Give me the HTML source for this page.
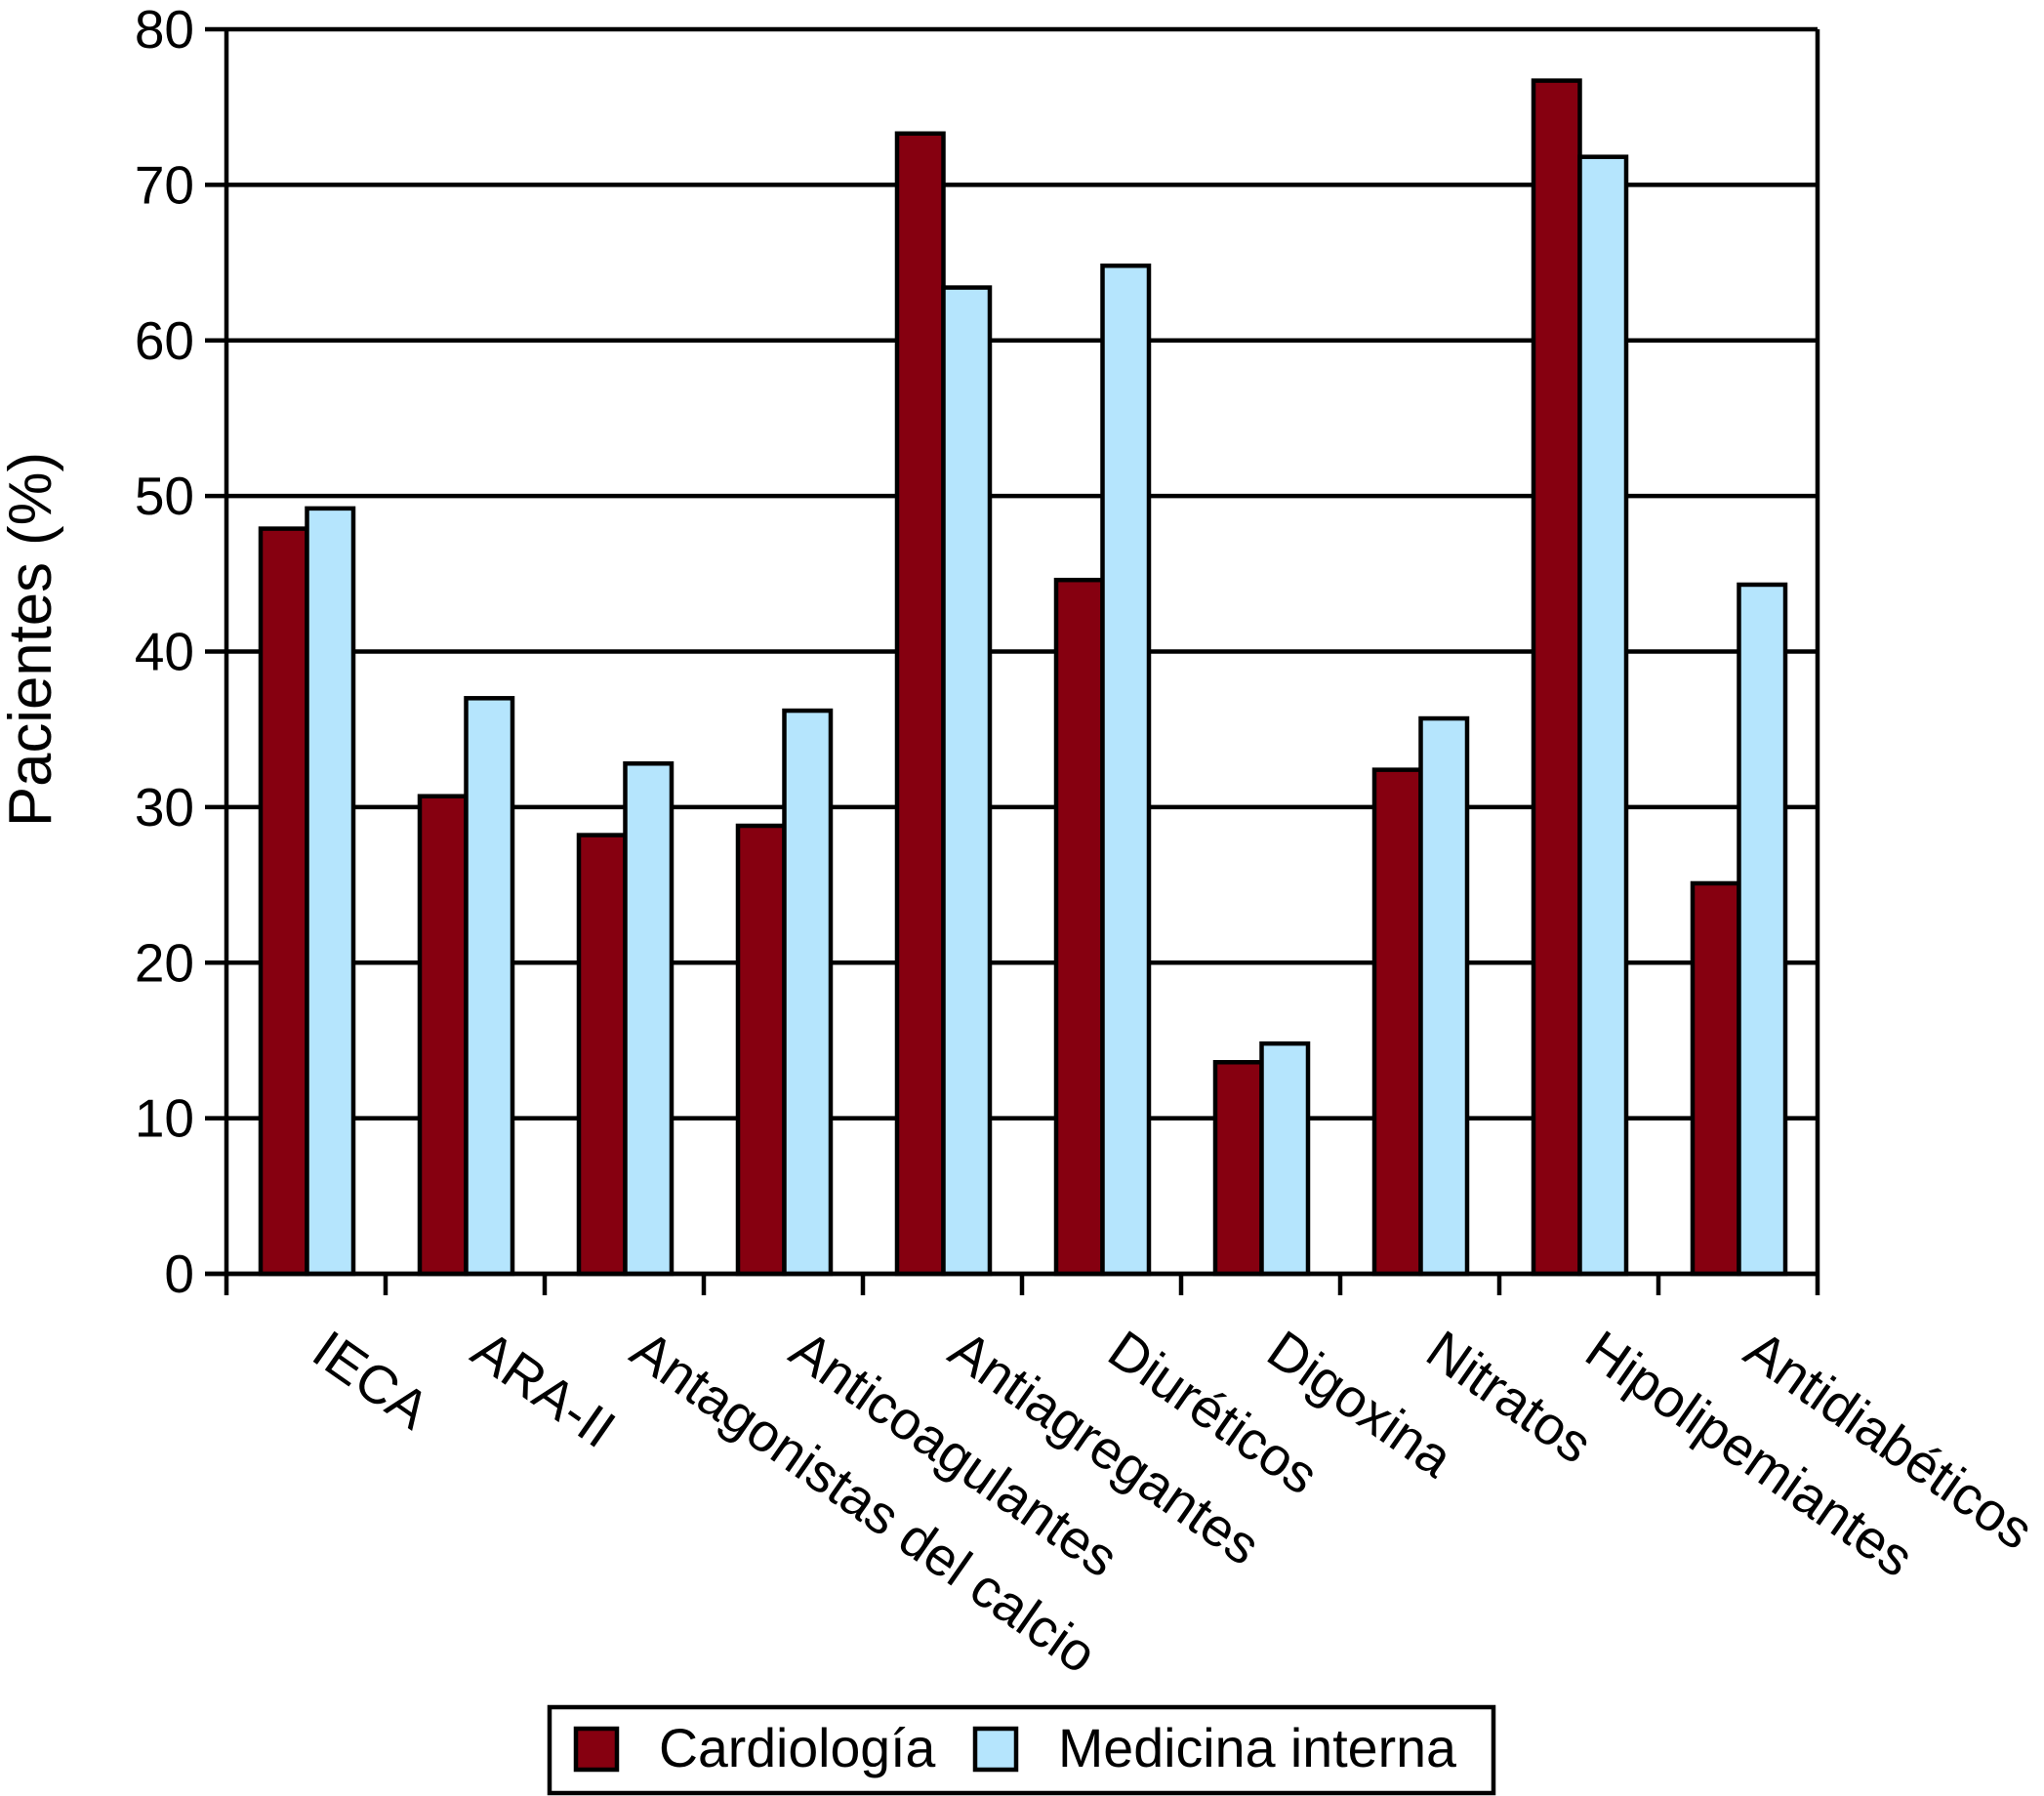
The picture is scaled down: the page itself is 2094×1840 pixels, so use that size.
<!DOCTYPE html>
<html lang="es">
<head>
<meta charset="utf-8">
<title>Pacientes (%) por tratamiento</title>
<style>
html,body{margin:0;padding:0;background:#fff;width:2094px;height:1840px;overflow:hidden}
svg{display:block}
text{font-family:"Liberation Sans",sans-serif;fill:#000}
</style>
</head>
<body>
<svg id="chart" xmlns="http://www.w3.org/2000/svg" width="2094" height="1840" viewBox="0 0 2094 1840">
  <rect x="0" y="0" width="2094" height="1840" fill="#fff"/>
  <g id="grid"></g>
  <g id="bars"></g>
  <g id="axes"></g>
  <g id="ylabels"></g>
  <g id="xlabels"></g>
  <text transform="translate(52 655) rotate(-90)" text-anchor="middle" font-size="61.7">Pacientes (%)</text>
  <g>
    <rect x="563" y="1749" width="967" height="88" fill="#fff" stroke="#000" stroke-width="4.5"/>
    <rect x="590" y="1771" width="42" height="42" fill="#860010" stroke="#000" stroke-width="4.5"/>
    <text x="675" y="1810" font-size="55.4">Cardiología</text>
    <rect x="999" y="1771" width="42" height="42" fill="#b5e5fd" stroke="#000" stroke-width="4.5"/>
    <text x="1084" y="1810" font-size="55.6">Medicina interna</text>
  </g>
</svg>
<script>
const categories = ["IECA","ARA-II","Antagonistas del calcio","Anticoagulantes","Antiagregantes","Diuréticos","Digoxina","Nitratos","Hipolipemiantes","Antidiabéticos"];
const cardiologia = [47.9,30.7,28.2,28.8,73.3,44.6,13.6,32.4,76.7,25.1];
const medicinaInterna = [49.2,37.0,32.8,36.2,63.4,64.8,14.8,35.7,71.8,44.3];
const yTicks = [0,10,20,30,40,50,60,70,80];

const NS = "http://www.w3.org/2000/svg";
const plot = {left:232,right:1862,top:30,bottom:1305};
const yMax = 80;
const bandW = (plot.right-plot.left)/categories.length;
const barW = 47.5;
const barOffset = 35;
const strokeW = 4.5;
function yScale(v){return plot.bottom-(v/yMax)*(plot.bottom-plot.top);}
function xBand(i){return plot.left+i*bandW;}
function mk(tag,attrs,parent){
  const el=document.createElementNS(NS,tag);
  for(const k in attrs){el.setAttribute(k,attrs[k]);}
  parent.appendChild(el);
  return el;
}
const grid=document.getElementById('grid');
const barsG=document.getElementById('bars');
const axes=document.getElementById('axes');
const ylabels=document.getElementById('ylabels');
const xlabels=document.getElementById('xlabels');

yTicks.forEach(function(t){
  const line=mk('line',{x1:210,x2:plot.right,y1:yScale(t),y2:yScale(t),stroke:'#000','stroke-width':strokeW},grid);
  
  
  const label=mk('text',{x:199,y:yScale(t)+19,'text-anchor':'end','font-size':55},ylabels);
  
  
  label.textContent=t;
});

categories.forEach(function(c,i){
  const x0=xBand(i)+barOffset;
  const a=mk('rect',{x:x0,y:yScale(cardiologia[i]),width:barW,height:plot.bottom-yScale(cardiologia[i]),fill:'#860010',stroke:'#000','stroke-width':strokeW},barsG);
  
  
  const b=mk('rect',{x:x0+barW,y:yScale(medicinaInterna[i]),width:barW,height:plot.bottom-yScale(medicinaInterna[i]),fill:'#b5e5fd',stroke:'#000','stroke-width':strokeW},barsG);
  
  
  const lx=xBand(i)+bandW/2+3;
  const label=mk('text',{transform:'translate('+lx+' 1392) rotate(35)','font-size':55.3},xlabels);
  
  
  label.textContent=c;
});

const yAxis=mk('line',{x1:plot.left,x2:plot.left,y1:plot.top,y2:1327,stroke:'#000','stroke-width':strokeW},axes);


const rightAxis=mk('line',{x1:plot.right,x2:plot.right,y1:plot.top,y2:1327,stroke:'#000','stroke-width':strokeW},axes);


const xAxis=mk('line',{x1:210,x2:plot.right,y1:plot.bottom,y2:plot.bottom,stroke:'#000','stroke-width':strokeW},axes);


for(let i=1;i<categories.length;i++){
  const tick=mk('line',{x1:xBand(i),x2:xBand(i),y1:plot.bottom,y2:1327,stroke:'#000','stroke-width':strokeW},axes);
  
  
}
</script>
</body>
</html>
